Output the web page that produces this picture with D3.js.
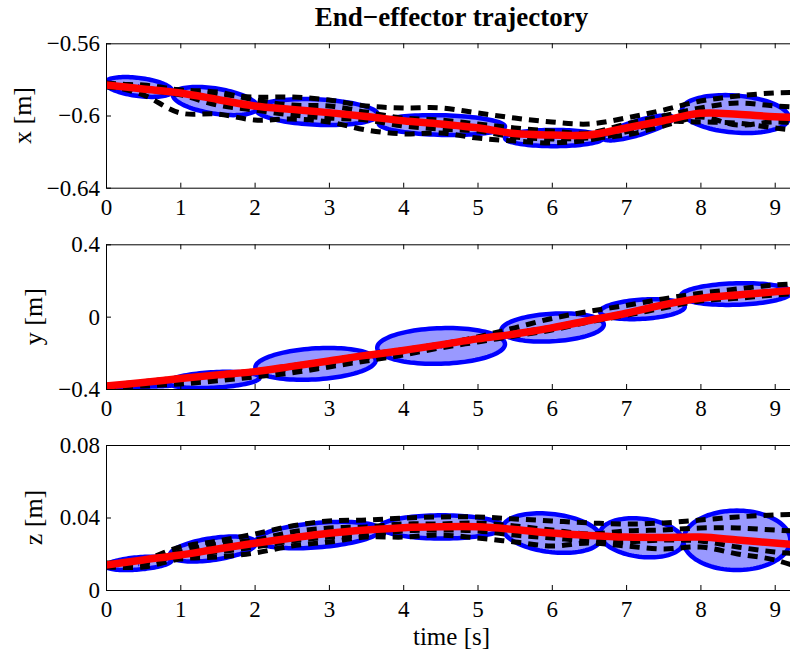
<!DOCTYPE html>
<html>
<head>
<meta charset="utf-8">
<script src="https://cdn.jsdelivr.net/npm/d3@7"></script>
<style>
  body { margin: 0; background: #fff; }
  svg { display: block; }
</style>
</head>
<body>
<script>
// ---------------- DATA ----------------
const tGrid = [0,0.5,1,1.5,2,2.5,3,3.5,4,4.5,5,5.5,6,6.5,7,7.5,8,8.5,9,9.5];
const timeTicks = [0,1,2,3,4,5,6,7,8,9];

// x [m]
const xMean  = [-0.5831,-0.5853,-0.5875,-0.5911,-0.5947,-0.5966,-0.5984,-0.6005,-0.6029,-0.6047,-0.6068,-0.6100,-0.6108,-0.6108,-0.6069,-0.6029,-0.5988,-0.5993,-0.6007,-0.6011];
const xDemo1 = [-0.5831,-0.5831,-0.5859,-0.5881,-0.5898,-0.5898,-0.5914,-0.5947,-0.5958,-0.5958,-0.5986,-0.6014,-0.6036,-0.6047,-0.6014,-0.5970,-0.5920,-0.5892,-0.5875,-0.5870];
const xDemo2 = [-0.5831,-0.5886,-0.5986,-0.5992,-0.6025,-0.6020,-0.6036,-0.6080,-0.6102,-0.6097,-0.6125,-0.6141,-0.6152,-0.6136,-0.6091,-0.6036,-0.6036,-0.6042,-0.6069,-0.6091];
const xDemo3 = [-0.5820,-0.5837,-0.5859,-0.5870,-0.5914,-0.5942,-0.5947,-0.5981,-0.6014,-0.6025,-0.6047,-0.6069,-0.6086,-0.6097,-0.6047,-0.6003,-0.5958,-0.5931,-0.5947,-0.5958];
const xDemo4 = [-0.5842,-0.5859,-0.5886,-0.5942,-0.5970,-0.5997,-0.6014,-0.6025,-0.6058,-0.6075,-0.6086,-0.6119,-0.6130,-0.6125,-0.6108,-0.6058,-0.6008,-0.6053,-0.6036,-0.6047];
// ellipses: [centre time, centre value, half-width time, half-height value, correlation]
const xEllipses = [
  [0.44,-0.5842,0.45,0.0055,-0.4],
  [1.47,-0.5920,0.57,0.0078,-0.43],
  [2.84,-0.5981,0.82,0.0072,-0.2],
  [4.52,-0.6053,0.85,0.0055,-0.15],
  [6.03,-0.6125,0.66,0.0045,0],
  [7.16,-0.6069,0.47,0.0069,0.8],
  [8.47,-0.5992,0.72,0.0105,-0.2]
];
const xTickVals = [-0.64,-0.6,-0.56];
const xTickLabels = ["\u22120.64","\u22120.6","\u22120.56"];

// y [m]
const yMean  = [-0.383,-0.364,-0.342,-0.322,-0.304,-0.275,-0.245,-0.214,-0.187,-0.156,-0.123,-0.096,-0.062,-0.021,0.019,0.065,0.101,0.120,0.137,0.150];
const yDemo1 = [-0.383,-0.367,-0.350,-0.333,-0.311,-0.289,-0.261,-0.228,-0.195,-0.156,-0.112,-0.062,-0.010,0.029,0.062,0.098,0.129,0.153,0.175,0.186];
const yDemo2 = [-0.389,-0.383,-0.372,-0.355,-0.333,-0.311,-0.278,-0.245,-0.212,-0.173,-0.140,-0.107,-0.074,-0.029,0.007,0.048,0.087,0.101,0.120,0.131];
const yDemo3 = [-0.380,-0.360,-0.338,-0.318,-0.300,-0.271,-0.242,-0.210,-0.183,-0.152,-0.118,-0.090,-0.058,-0.018,0.022,0.068,0.104,0.124,0.140,0.153];
const yDemo4 = [-0.386,-0.368,-0.346,-0.326,-0.308,-0.280,-0.250,-0.219,-0.191,-0.160,-0.128,-0.100,-0.066,-0.025,0.015,0.061,0.097,0.116,0.133,0.146];
const yEllipses = [
  [0.44,-0.383,0.45,0.006,0.5],
  [1.45,-0.350,0.62,0.045,0.3],
  [2.82,-0.261,0.81,0.088,0.22],
  [4.51,-0.162,0.86,0.099,0.1],
  [6.01,-0.060,0.69,0.078,0.2],
  [7.22,0.041,0.57,0.055,0.25],
  [8.48,0.125,0.74,0.060,0.15]
];
const yTickVals = [-0.4,0,0.4];
const yTickLabels = ["\u22120.4","0","0.4"];

// z [m]
const zMean  = [0.0138,0.0166,0.0193,0.0226,0.0258,0.0287,0.0313,0.0331,0.0344,0.0349,0.0349,0.0334,0.0314,0.0301,0.0292,0.0290,0.0292,0.0276,0.0259,0.0243];
const zDemo1 = [0.0138,0.0166,0.0237,0.0270,0.0309,0.0353,0.0381,0.0386,0.0397,0.0403,0.0403,0.0392,0.0381,0.0370,0.0364,0.0370,0.0386,0.0403,0.0414,0.0419];
const zDemo2 = [0.0127,0.0127,0.0171,0.0182,0.0204,0.0243,0.0265,0.0292,0.0292,0.0303,0.0287,0.0265,0.0243,0.0259,0.0243,0.0226,0.0237,0.0199,0.0166,0.0099];
const zDemo3 = [0.0149,0.0160,0.0210,0.0254,0.0276,0.0320,0.0342,0.0348,0.0364,0.0364,0.0370,0.0353,0.0331,0.0309,0.0326,0.0331,0.0342,0.0342,0.0331,0.0320];
const zDemo4 = [0.0132,0.0149,0.0188,0.0210,0.0237,0.0270,0.0292,0.0303,0.0326,0.0331,0.0326,0.0303,0.0287,0.0270,0.0265,0.0276,0.0270,0.0237,0.0210,0.0193];
const zEllipses = [
  [0.44,0.0147,0.44,0.0037,0.4],
  [1.44,0.0226,0.58,0.0069,0.47],
  [2.86,0.0303,0.83,0.0073,0.38],
  [4.52,0.0348,0.83,0.0064,0],
  [6.00,0.0314,0.66,0.0109,-0.25],
  [7.21,0.0288,0.56,0.0108,-0.2],
  [8.49,0.0274,0.72,0.0164,0]
];
const zTickVals = [0,0.04,0.08];
const zTickLabels = ["0","0.04","0.08"];

// ---------------- LAYOUT ----------------
const W = 790, H = 652;
const FONT = "'Liberation Serif','Times New Roman',Times,serif";
const left = 106, right = 797;

const panels = [
  {label:"x [m]", domain:[-0.64,-0.56], top:43.3, bottom:187.7, tv:xTickVals, tl:xTickLabels,
   mean:xMean, demos:[xDemo1,xDemo2,xDemo3,xDemo4], ell:xEllipses, labelX:31},
  {label:"y [m]", domain:[-0.4,0.4], top:244.3, bottom:389, tv:yTickVals, tl:yTickLabels,
   mean:yMean, demos:[yDemo1,yDemo2,yDemo3,yDemo4], ell:yEllipses, labelX:42},
  {label:"z [m]", domain:[0,0.08], top:445, bottom:590, tv:zTickVals, tl:zTickLabels,
   mean:zMean, demos:[zDemo1,zDemo2,zDemo3,zDemo4], ell:zEllipses, labelX:42}
];

const svg = d3.select("body").append("svg").attr("width", W).attr("height", H);
const xs = d3.scaleLinear().domain([0, 9.3]).range([left, right]);

panels.forEach((p, pi) => {
  const ys = d3.scaleLinear().domain(p.domain).range([p.bottom, p.top]);
  const clipId = "clip" + pi;
  svg.append("clipPath").attr("id", clipId).append("rect")
    .attr("x", left).attr("y", p.top).attr("width", right - left).attr("height", p.bottom - p.top);
  const g = svg.append("g").attr("clip-path", `url(#${clipId})`);

  // ellipses
  const angles = d3.range(0, 101).map(i => i / 100 * 2 * Math.PI);
  p.ell.forEach(e => {
    const [ct, cv, rt, rv, rho] = e;
    const s = Math.sqrt(1 - rho * rho);
    const pts = angles.map(a => [xs(ct + rt * Math.cos(a)), ys(cv + rv * (rho * Math.cos(a) + s * Math.sin(a)))]);
    g.append("path").attr("d", d3.line()(pts) + "Z")
      .attr("fill", "#9999ff").attr("stroke", "#0000ff").attr("stroke-width", 4.5);
    g.append("path").attr("d", `M${xs(ct)-3},${ys(cv)}h6M${xs(ct)},${ys(cv)-3}v6`)
      .attr("stroke", "#0000ff").attr("stroke-width", 1);
  });

  const line = d3.line().x((d, i) => xs(tGrid[i])).y(d => ys(d)).curve(d3.curveCatmullRom.alpha(0.5));

  p.demos.forEach(dm => {
    g.append("path").attr("d", line(dm)).attr("fill", "none")
      .attr("stroke", "#000").attr("stroke-width", 5).attr("stroke-dasharray", "10,7");
  });
  g.append("path").attr("d", line(p.mean)).attr("fill", "none")
    .attr("stroke", "#ff0000").attr("stroke-width", 7.5).attr("stroke-linejoin", "round");

  // axes
  const ax = svg.append("g");
  const yAxis = d3.axisLeft(ys).tickValues(p.tv).tickFormat((d, i) => p.tl[i])
    .tickSize(-5).tickSizeOuter(0).tickPadding(6);
  ax.append("g").attr("transform", `translate(${left},0)`).call(yAxis);
  const xAxis = d3.axisBottom(xs).tickValues(timeTicks).tickFormat(d3.format("d"))
    .tickSize(-5).tickSizeOuter(0).tickPadding(11);
  ax.append("g").attr("transform", `translate(0,${p.bottom})`).call(xAxis);
  const xTop = d3.axisTop(xs).tickValues(timeTicks).tickFormat("")
    .tickSize(-5).tickSizeOuter(0);
  ax.append("g").attr("transform", `translate(0,${p.top})`).call(xTop);
  ax.append("line").attr("x1", right).attr("x2", right).attr("y1", p.top).attr("y2", p.bottom).attr("stroke", "#000");

  ax.selectAll("text").attr("font-family", FONT).attr("font-size", 23).attr("fill", "#000");
  ax.selectAll("path.domain, .tick line").attr("stroke", "#000").attr("stroke-width", 1);

  svg.append("text")
    .attr("transform", `translate(${p.labelX},${(p.top + p.bottom) / 2}) rotate(-90)`)
    .attr("text-anchor", "middle").attr("font-family", FONT).attr("font-size", 26)
    .text(p.label);
});

svg.append("text").attr("x", (left + right) / 2).attr("y", 26)
  .attr("text-anchor", "middle").attr("font-family", FONT).attr("font-size", 27)
  .attr("font-weight", "bold").text("End\u2212effector trajectory");

svg.append("text").attr("x", (left + right) / 2).attr("y", 645)
  .attr("text-anchor", "middle").attr("font-family", FONT).attr("font-size", 25)
  .text("time [s]");
</script>
</body>
</html>
